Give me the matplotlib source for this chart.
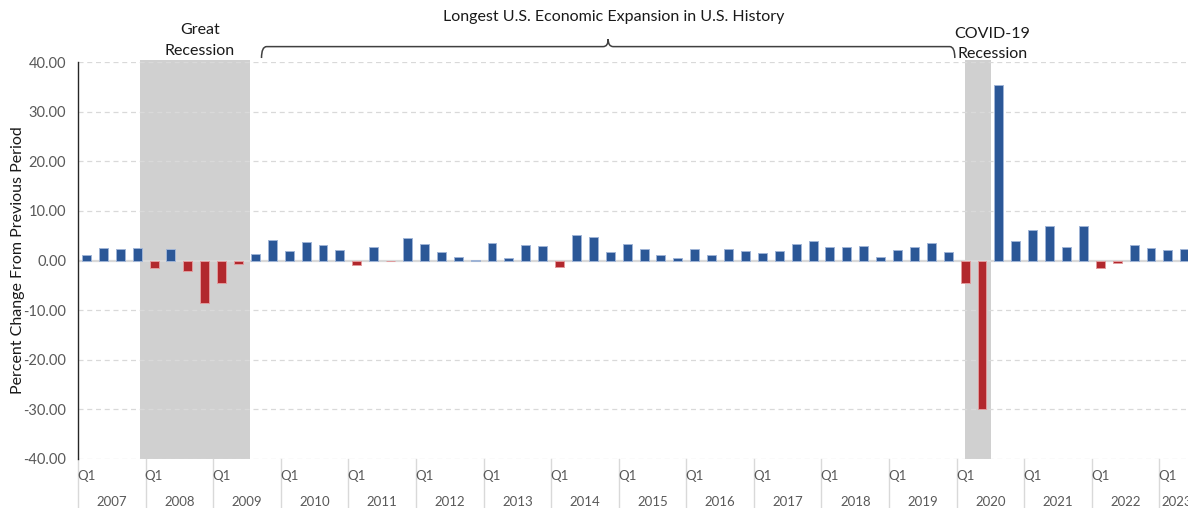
import matplotlib.pyplot as plt
import matplotlib.transforms as mtransforms
from matplotlib.path import Path
from matplotlib.patches import PathPatch

plt.rcParams['font.family'] = ['Lato', 'DejaVu Sans']

# quarterly real GDP, percent change from previous period (annualized)
years = [2007, 2008, 2009, 2010, 2011, 2012, 2013, 2014, 2015,
         2016, 2017, 2018, 2019, 2020, 2021, 2022, 2023]
quarters_per_year = [4] * 16 + [2]
growth = [
    1.2, 2.5, 2.3, 2.5,      # 2007
    -1.6, 2.3, -2.1, -8.5,   # 2008
    -4.6, -0.7, 1.4, 4.2,    # 2009
    2.0, 3.8, 3.1, 2.1,      # 2010
    -1.0, 2.8, -0.2, 4.6,    # 2011
    3.3, 1.8, 0.7, 0.2,      # 2012
    3.6, 0.5, 3.1, 2.9,      # 2013
    -1.4, 5.2, 4.8, 1.8,     # 2014
    3.3, 2.3, 1.2, 0.5,      # 2015
    2.3, 1.2, 2.3, 2.0,      # 2016
    1.6, 2.0, 3.4, 4.0,      # 2017
    2.8, 2.8, 2.9, 0.7,      # 2018
    2.2, 2.8, 3.6, 1.8,      # 2019
    -4.6, -29.9, 35.3, 3.9,  # 2020
    6.2, 7.0, 2.8, 7.0,      # 2021
    -1.5, -0.5, 3.2, 2.6,    # 2022
    2.1, 2.4,                # 2023
]
# recession spans in quarter-index units
recessions = [(3.18, 9.7), (51.98, 53.56)]
recession_labels = ["Great\nRecession", "COVID-19\nRecession"]
recession_label_x = [6.7, 53.6]
recession_label_y = [44.3, 43.6]
expansion_label = "Longest U.S. Economic Expansion in U.S. History"
expansion_span = (10.36, 51.39)
yticks = [40, 30, 20, 10, 0, -10, -20, -30, -40]

blue = '#2B5797'
red = '#B2282D'
grey_txt = '#595959'

fig = plt.figure(figsize=(11.88, 5.08), dpi=100)
ax = fig.add_axes([78 / 1188, 1 - 459 / 508, 1 - 78 / 1188, (459 - 62) / 508])

x = list(range(len(growth)))
colors = [blue if v >= 0 else red for v in growth]
edges = ['#9FB4D6' if v >= 0 else '#E29A9C' for v in growth]

for a, b in recessions:
    ax.axvspan(a, b, ymin=0, ymax=1.004, color='#D0D0D0', zorder=0, lw=0, clip_on=False)

for t in yticks:
    if t == 0:
        continue
    ax.axhline(t, color='#D9D9D9', lw=0.9, ls=(0, (4, 3)), zorder=1)
ax.axhline(0, color='#D9D9D9', lw=1.6, zorder=1)

ax.bar(x, growth, width=0.53, color=colors, edgecolor=edges, linewidth=0.7, zorder=2)

ax.set_ylim(-40, 40)
ax.set_xlim(-0.5, 65.19)
ax.set_yticks(yticks)
ax.set_yticklabels([f"{t:.2f}" for t in yticks], color=grey_txt, fontsize=10.5)
ax.tick_params(axis='y', length=0, pad=8.6)
ax.set_xticks([])
for s in ['top', 'right', 'bottom']:
    ax.spines[s].set_visible(False)
ax.spines['left'].set_color('#262626')
ax.spines['left'].set_linewidth(1.0)
ax.set_ylabel("Percent Change From Previous Period", fontsize=11.5, color='#1a1a1a')
ax.yaxis.set_label_coords(-0.048, 0.5)

# two level category axis
trans = mtransforms.blended_transform_factory(ax.transData, ax.transAxes)
start = 0
for yr, n in zip(years, quarters_per_year):
    sep = start - 0.5
    ax.plot([sep, sep], [0, -0.13], transform=trans, color='#D9D9D9', lw=1.0, clip_on=False)
    ax.text(start, -0.043, "Q1", transform=trans, ha='center', va='center',
            fontsize=9.5, color=grey_txt)
    ax.text(start + (n - 1) / 2, -0.108, str(yr), transform=trans, ha='center', va='center',
            fontsize=9.5, color=grey_txt)
    start += n

# recession labels
for lx, ly, lab in zip(recession_label_x, recession_label_y, recession_labels):
    ax.text(lx, ly, lab, ha='center', va='center', fontsize=11.5, color='#1a1a1a',
            linespacing=1.6, clip_on=False)

# curly brace for the expansion
l, r = expansion_span
m = (l + r) / 2
yb, yh, yt = 40.8, 43.1, 44.6
verts = [(l, yb), (l, yh), (l + 0.3, yh),
         (m - 0.3, yh), (m, yh), (m, yt),
         (m, yh), (m + 0.3, yh),
         (r - 0.3, yh), (r, yh), (r, yb)]
codes = [Path.MOVETO, Path.CURVE3, Path.CURVE3,
         Path.LINETO, Path.CURVE3, Path.CURVE3,
         Path.CURVE3, Path.CURVE3,
         Path.LINETO, Path.CURVE3, Path.CURVE3]
ax.add_patch(PathPatch(Path(verts, codes), fill=False, edgecolor='#404040', lw=1.1, clip_on=False))
ax.text(m + 0.3, 49.1, expansion_label, ha='center', va='center', fontsize=11.5,
        color='#1a1a1a', clip_on=False)

fig.savefig("out.png", dpi=100)
